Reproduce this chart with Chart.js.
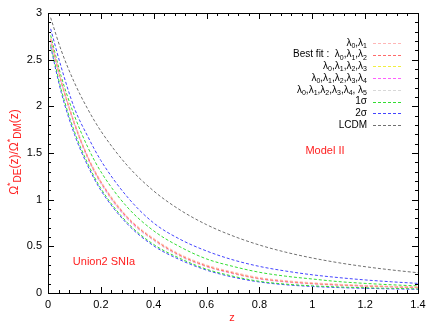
<!DOCTYPE html>
<html>
<head>
<meta charset="utf-8">
<script src="https://cdn.jsdelivr.net/npm/chart.js@4"></script>
<style>
  html, body { margin: 0; padding: 0; background: #fff; }
  #wrap { width: 436px; height: 327px; }
</style>
</head>
<body>
<div id="wrap"><canvas id="chart" width="436" height="327"></canvas></div>
<script>
// redshift grid
const zs = [0.01, 0.05, 0.1, 0.15, 0.2, 0.3, 0.4, 0.5, 0.6, 0.7, 0.8, 0.9, 1.0, 1.1, 1.2, 1.3, 1.4];

// curves
const lam01   = [2.73, 2.28, 1.83, 1.47, 1.20, 0.82, 0.585, 0.415, 0.30, 0.225, 0.165, 0.132, 0.11, 0.094, 0.082, 0.072, 0.064];
const bestFit = [2.72, 2.27, 1.82, 1.46, 1.19, 0.81, 0.575, 0.405, 0.29, 0.215, 0.157, 0.125, 0.103, 0.088, 0.077, 0.068, 0.06];
const lam0123 = [2.72, 2.27, 1.82, 1.46, 1.19, 0.81, 0.575, 0.405, 0.29, 0.215, 0.157, 0.125, 0.103, 0.088, 0.077, 0.068, 0.06];
const lam01234 = [2.71, 2.26, 1.81, 1.45, 1.18, 0.80, 0.57, 0.40, 0.285, 0.21, 0.153, 0.12, 0.099, 0.085, 0.074, 0.066, 0.058];
const lam012345 = [2.70, 2.25, 1.80, 1.44, 1.17, 0.79, 0.56, 0.39, 0.28, 0.205, 0.148, 0.115, 0.095, 0.08, 0.07, 0.062, 0.055];
const sigma1Up = [2.76, 2.32, 1.90, 1.565, 1.30, 0.92, 0.666, 0.494, 0.365, 0.285, 0.222, 0.18, 0.15, 0.122, 0.103, 0.088, 0.076];
const sigma1Lo = [2.66, 2.18, 1.73, 1.39, 1.12, 0.755, 0.52, 0.37, 0.255, 0.18, 0.125, 0.095, 0.077, 0.065, 0.056, 0.05, 0.045];
const sigma2Up = [2.83, 2.42, 1.98, 1.68, 1.42, 1.03, 0.75, 0.575, 0.45, 0.355, 0.285, 0.235, 0.195, 0.165, 0.14, 0.12, 0.103];
const sigma2Lo = [2.64, 2.15, 1.70, 1.365, 1.10, 0.74, 0.505, 0.355, 0.245, 0.17, 0.118, 0.088, 0.07, 0.058, 0.05, 0.044, 0.04];
const lcdm    = [2.95, 2.60, 2.254, 1.973, 1.736, 1.366, 1.093, 0.889, 0.732, 0.611, 0.514, 0.437, 0.375, 0.324, 0.282, 0.247, 0.217];

const xTicks = [0, 0.2, 0.4, 0.6, 0.8, 1, 1.2, 1.4];
const yTicks = [0, 0.5, 1, 1.5, 2, 2.5, 3];

function pts(arr) {
    return zs.map((z, i) => ({ x: z, y: arr[i] }));
}

// legend rows: label parts [text, isSubscript]
const series = [
    { label: [['λ', 0], ['0', 1], [',λ', 0], ['1', 1]], data: lam01, color: '#ffb6b6' },
    { label: [['Best fit :  λ', 0], ['0', 1], [',λ', 0], ['1', 1], [',λ', 0], ['2', 1]], data: bestFit, color: '#ff6a6a' },
    { label: [['λ', 0], ['0', 1], [',λ', 0], ['1', 1], [',λ', 0], ['2', 1], [',λ', 0], ['3', 1]], data: lam0123, color: '#f0f040' },
    { label: [['λ', 0], ['0', 1], [',λ', 0], ['1', 1], [',λ', 0], ['2', 1], [',λ', 0], ['3', 1], [',λ', 0], ['4', 1]], data: lam01234, color: '#ff60ff' },
    { label: [['λ', 0], ['0', 1], [',λ', 0], ['1', 1], [',λ', 0], ['2', 1], [',λ', 0], ['3', 1], [',λ', 0], ['4', 1], [', λ', 0], ['5', 1]], data: lam012345, color: '#d8d8d8' },
    { label: [['1σ', 0]], data: sigma1Up, color: '#33dd33' },
    { label: [['2σ', 0]], data: sigma2Up, color: '#4444ff' },
    { label: [['LCDM', 0]], data: lcdm, color: '#707070' }
];

const datasets = [];
series.forEach(s => {
    datasets.push({ label: s.label.map(p => p[0]).join(''), data: pts(s.data), borderColor: s.color });
});
datasets.push({ label: '1σ low', data: pts(sigma1Lo), borderColor: '#33dd33' });
datasets.push({ label: '2σ low', data: pts(sigma2Lo), borderColor: '#4444ff' });
datasets.forEach(d => {
    d.borderWidth = 1;
    d.borderDash = [3, 2];
    d.pointRadius = 0;
    d.fill = false;
    d.cubicInterpolationMode = 'monotone';
});

const FONT = '"Liberation Sans", Arial, sans-serif';

function drawParts(ctx, parts, xRight, y, size) {
    let w = 0;
    parts.forEach(p => {
        ctx.font = (p[1] ? size - 3 : size) + 'px ' + FONT;
        w += ctx.measureText(p[0]).width;
    });
    let x = xRight - w;
    parts.forEach(p => {
        ctx.font = (p[1] ? size - 3 : size) + 'px ' + FONT;
        ctx.fillText(p[0], x, p[1] ? y + 3 : y);
        x += ctx.measureText(p[0]).width;
    });
}

const framePlugin = {
    id: 'frame',
    afterDatasetsDraw(chart) {
        const ctx = chart.ctx;
        const a = chart.chartArea;
        const xs = chart.scales.x, ys = chart.scales.y;
        ctx.save();
        ctx.strokeStyle = '#000';
        ctx.lineWidth = 1;
        ctx.beginPath();
        // ticks on x, bottom and top
        for (let i = 0; i <= 35; i++) {
            const px = Math.round(xs.getPixelForValue(i * 0.04)) + 0.5;
            const len = (i % 5 === 0) ? 6 : 3;
            ctx.moveTo(px, a.bottom); ctx.lineTo(px, a.bottom - len);
            ctx.moveTo(px, a.top); ctx.lineTo(px, a.top + len);
        }
        // ticks on y, left and right
        for (let i = 0; i <= 30; i++) {
            const py = Math.round(ys.getPixelForValue(i * 0.1)) + 0.5;
            const len = (i % 5 === 0) ? 6 : 3;
            ctx.moveTo(a.left, py); ctx.lineTo(a.left + len, py);
            ctx.moveTo(a.right, py); ctx.lineTo(a.right - len, py);
        }
        ctx.stroke();
        ctx.strokeRect(Math.round(a.left) + 0.5, Math.round(a.top) + 0.5,
                       Math.round(a.right - a.left), Math.round(a.bottom - a.top));

        // legend
        ctx.fillStyle = '#000';
        ctx.textBaseline = 'middle';
        series.forEach((s, i) => {
            const y = 43 + i * 11.7;
            drawParts(ctx, s.label, 367, y, 10);
            ctx.strokeStyle = s.color;
            ctx.setLineDash([3, 2]);
            ctx.beginPath();
            ctx.moveTo(373, Math.round(y) + 0.5);
            ctx.lineTo(401, Math.round(y) + 0.5);
            ctx.stroke();
        });
        ctx.setLineDash([]);

        // annotations
        ctx.fillStyle = '#ff2020';
        ctx.textAlign = 'center';
        ctx.font = '11px ' + FONT;
        ctx.fillText('Model II', 325, 151);
        ctx.fillText('Union2 SNIa', 104, 262);
        ctx.fillText('z', 232, 318);

        // y title with sub/superscripts
        ctx.translate(15, 152);
        ctx.rotate(-Math.PI / 2);
        const parts = [['Ω', 0, 12], ['*', -1, 9], ['DE', 1, 10], ['(z)/Ω', 0, 12], ['*', -1, 9], ['DM', 1, 10], ['(z)', 0, 12]];
        let w = 0;
        parts.forEach(p => { ctx.font = p[2] + 'px ' + FONT; w += ctx.measureText(p[0]).width; });
        let x = -w / 2;
        ctx.textAlign = 'left';
        parts.forEach(p => {
            ctx.font = p[2] + 'px ' + FONT;
            const dy = p[1] === 1 ? 3 : (p[1] === -1 ? -4 : 0);
            ctx.fillText(p[0], x, dy);
            x += ctx.measureText(p[0]).width;
        });
        ctx.restore();
    }
};

new Chart(document.getElementById('chart'), {
    type: 'line',
    data: { datasets: datasets },
    options: {
        responsive: false,
        animation: false,
        maintainAspectRatio: false,
        layout: { padding: { top: 13, right: 18, left: 0, bottom: 0 } },
        plugins: {
            legend: { display: false },
            tooltip: { enabled: false }
        },
        scales: {
            x: {
                type: 'linear',
                min: 0,
                max: 1.4,
                afterBuildTicks: s => { s.ticks = xTicks.map(v => ({ value: v })); },
                afterFit: s => { s.height = 34; },
                grid: { display: false, drawTicks: false },
                border: { display: false },
                ticks: {
                    padding: 5,
                    color: '#000',
                    font: { family: FONT, size: 11 },
                    maxRotation: 0,
                    callback: v => String(Math.round(v * 10) / 10)
                }
            },
            y: {
                type: 'linear',
                min: 0,
                max: 3,
                afterBuildTicks: s => { s.ticks = yTicks.map(v => ({ value: v })); },
                afterFit: s => { s.width = 48; },
                grid: { display: false, drawTicks: false },
                border: { display: false },
                ticks: {
                    padding: 6,
                    color: '#000',
                    font: { family: FONT, size: 11 },
                    callback: v => String(v)
                }
            }
        }
    },
    plugins: [framePlugin]
});
</script>
</body>
</html>
